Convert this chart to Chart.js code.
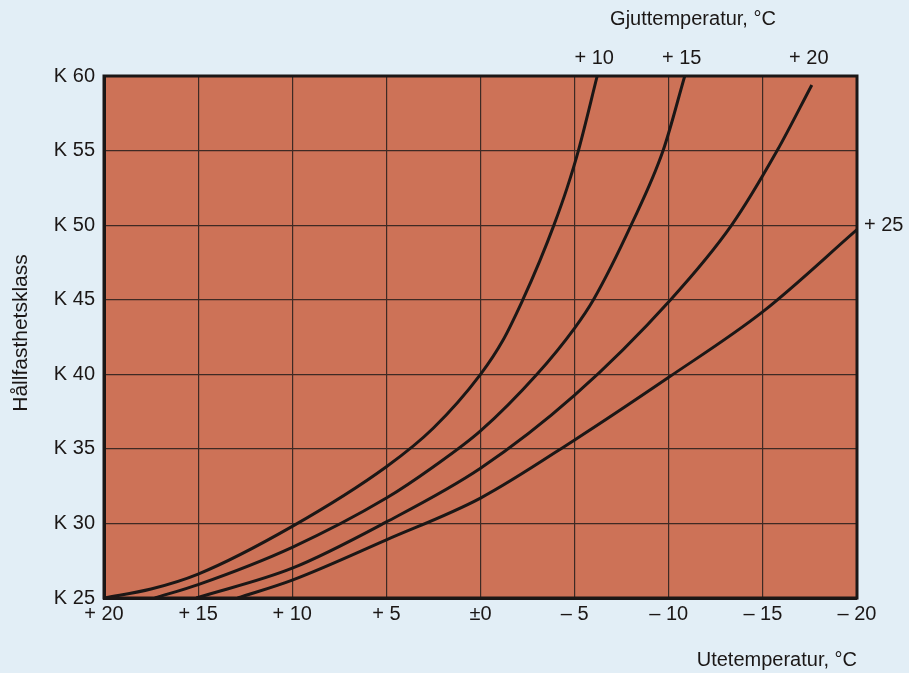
<!DOCTYPE html>
<html>
<head>
<meta charset="utf-8">
<script src="https://cdn.jsdelivr.net/npm/chart.js@4/dist/chart.umd.min.js"></script>
<style>
  html, body { margin: 0; padding: 0; background: #e2eef6; }
  #wrap { width: 909px; height: 673px; }
</style>
</head>
<body>
<div id="wrap"><canvas id="chart" width="909" height="673"></canvas></div>
<script>
// Utetemperatur (outdoor temp, °C) and Hållfasthetsklass (K)
const castLabels = ['+ 10', '+ 15', '+ 20', '+ 25'];

const t10 = [20, 17.5, 15, 10, 5, 2.5, 0, -1.2, -2.25, -3.15, -3.9, -4.6, -5.2, -6.2];
const k10 = [25, 25.6, 26.6, 29.8, 33.8, 36.4, 40, 42.3, 45, 47.6, 50, 52.5, 55, 60];

const t15 = [17.3, 15, 10, 5, 2.5, 0, -3, -5, -6.0, -8.0, -9.7, -10.85];
const k15 = [25, 25.9, 28.4, 31.7, 33.8, 36.2, 40, 43.1, 45, 50, 55, 60];

const t20 = [15.1, 10, 5, 0, -5, -10.1, -13.34, -15.76, -17.6];
const k20 = [25, 27.0, 30.1, 33.7, 38.6, 45, 50, 55, 59.4];

const t25 = [12.9, 10, 5, 0, -5, -10, -15, -20];
const k25 = [25, 26.2, 28.9, 31.7, 35.6, 39.8, 44.2, 49.7];

const xTicks = [20, 15, 10, 5, 0, -5, -10, -15, -20];
const yTicks = [25, 30, 35, 40, 45, 50, 55, 60];

const FONT = '"Liberation Sans", Arial, sans-serif';
const INK = '#1b1716';
const PLOT_BG = '#cd7257';
const GRID = '#3e2a24';

function pts(ts, ks) {
    return ts.map((t, i) => ({ x: t, y: ks[i] }));
}

function fmtX(v) {
    if (v > 0) return '+ ' + v;
    if (v === 0) return '±0';
    return '– ' + (-v);
}

const series = [pts(t10, k10), pts(t15, k15), pts(t20, k20), pts(t25, k25)];

const paperPlugin = {
    id: 'paper',
    beforeDraw(chart) {
        const { ctx, chartArea: a } = chart;
        ctx.save();
        ctx.fillStyle = '#e2eef6';
        ctx.fillRect(0, 0, chart.width, chart.height);
        ctx.fillStyle = PLOT_BG;
        ctx.fillRect(a.left, a.top, a.right - a.left, a.bottom - a.top);
        ctx.restore();
    },
    afterDraw(chart) {
        const { ctx, chartArea: a } = chart;
        const xs = chart.scales.x, ys = chart.scales.y;
        ctx.save();
        // frame
        ctx.strokeStyle = INK;
        ctx.lineWidth = 3;
        ctx.strokeRect(a.left, a.top, a.right - a.left, a.bottom - a.top);

        ctx.fillStyle = INK;
        ctx.font = '20px ' + FONT;
        ctx.textBaseline = 'middle';

        // curve labels (casting temperature)
        series.forEach((data, i) => {
            const last = data[data.length - 1];
            const px = xs.getPixelForValue(last.x);
            const py = ys.getPixelForValue(last.y);
            if (i < 3) {
                ctx.textAlign = 'center';
                ctx.fillText(castLabels[i], px - 3, a.top - 18);
            } else {
                ctx.textAlign = 'left';
                ctx.fillText(castLabels[i], px + 7, py - 4);
            }
        });

        ctx.textAlign = 'center';
        ctx.fillText('Gjuttemperatur, °C', 693, 19);
        ctx.textAlign = 'right';
        ctx.fillText('Utetemperatur, °C', a.right, 660);

        // y title
        ctx.translate(21, 333);
        ctx.rotate(-Math.PI / 2);
        ctx.textAlign = 'center';
        ctx.font = '21px ' + FONT;
        ctx.fillText('Hållfasthetsklass', 0, 0);
        ctx.restore();
    }
};

new Chart(document.getElementById('chart'), {
    type: 'line',
    data: {
        datasets: series.map(d => ({
            data: d,
            borderColor: INK,
            borderWidth: 3,
            pointRadius: 0,
            cubicInterpolationMode: 'monotone',
            fill: false
        }))
    },
    options: {
        responsive: false,
        animation: false,
        devicePixelRatio: 1,
        layout: { padding: { top: 76, right: 52, left: 0, bottom: 0 } },
        plugins: { legend: { display: false }, tooltip: { enabled: false } },
        scales: {
            x: {
                type: 'linear',
                reverse: true,
                min: -20, max: 20,
                afterFit: s => { s.height = 75; },
                afterBuildTicks: s => { s.ticks = xTicks.map(v => ({ value: v })); },
                ticks: {
                    callback: v => fmtX(v),
                    color: INK,
                    padding: 4,
                    maxRotation: 0,
                    font: { family: FONT, size: 20 }
                },
                grid: { color: GRID, lineWidth: 1.2, drawTicks: false },
                border: { display: true, color: INK, width: 3 }
            },
            y: {
                min: 25, max: 60,
                afterFit: s => { s.width = 104; },
                afterBuildTicks: s => { s.ticks = yTicks.map(v => ({ value: v })); },
                ticks: {
                    callback: v => 'K ' + v,
                    color: INK,
                    padding: 9,
                    font: { family: FONT, size: 20 }
                },
                grid: { color: GRID, lineWidth: 1.2, drawTicks: false },
                border: { display: true, color: INK, width: 3 }
            }
        }
    },
    plugins: [paperPlugin]
});
</script>
</body>
</html>
